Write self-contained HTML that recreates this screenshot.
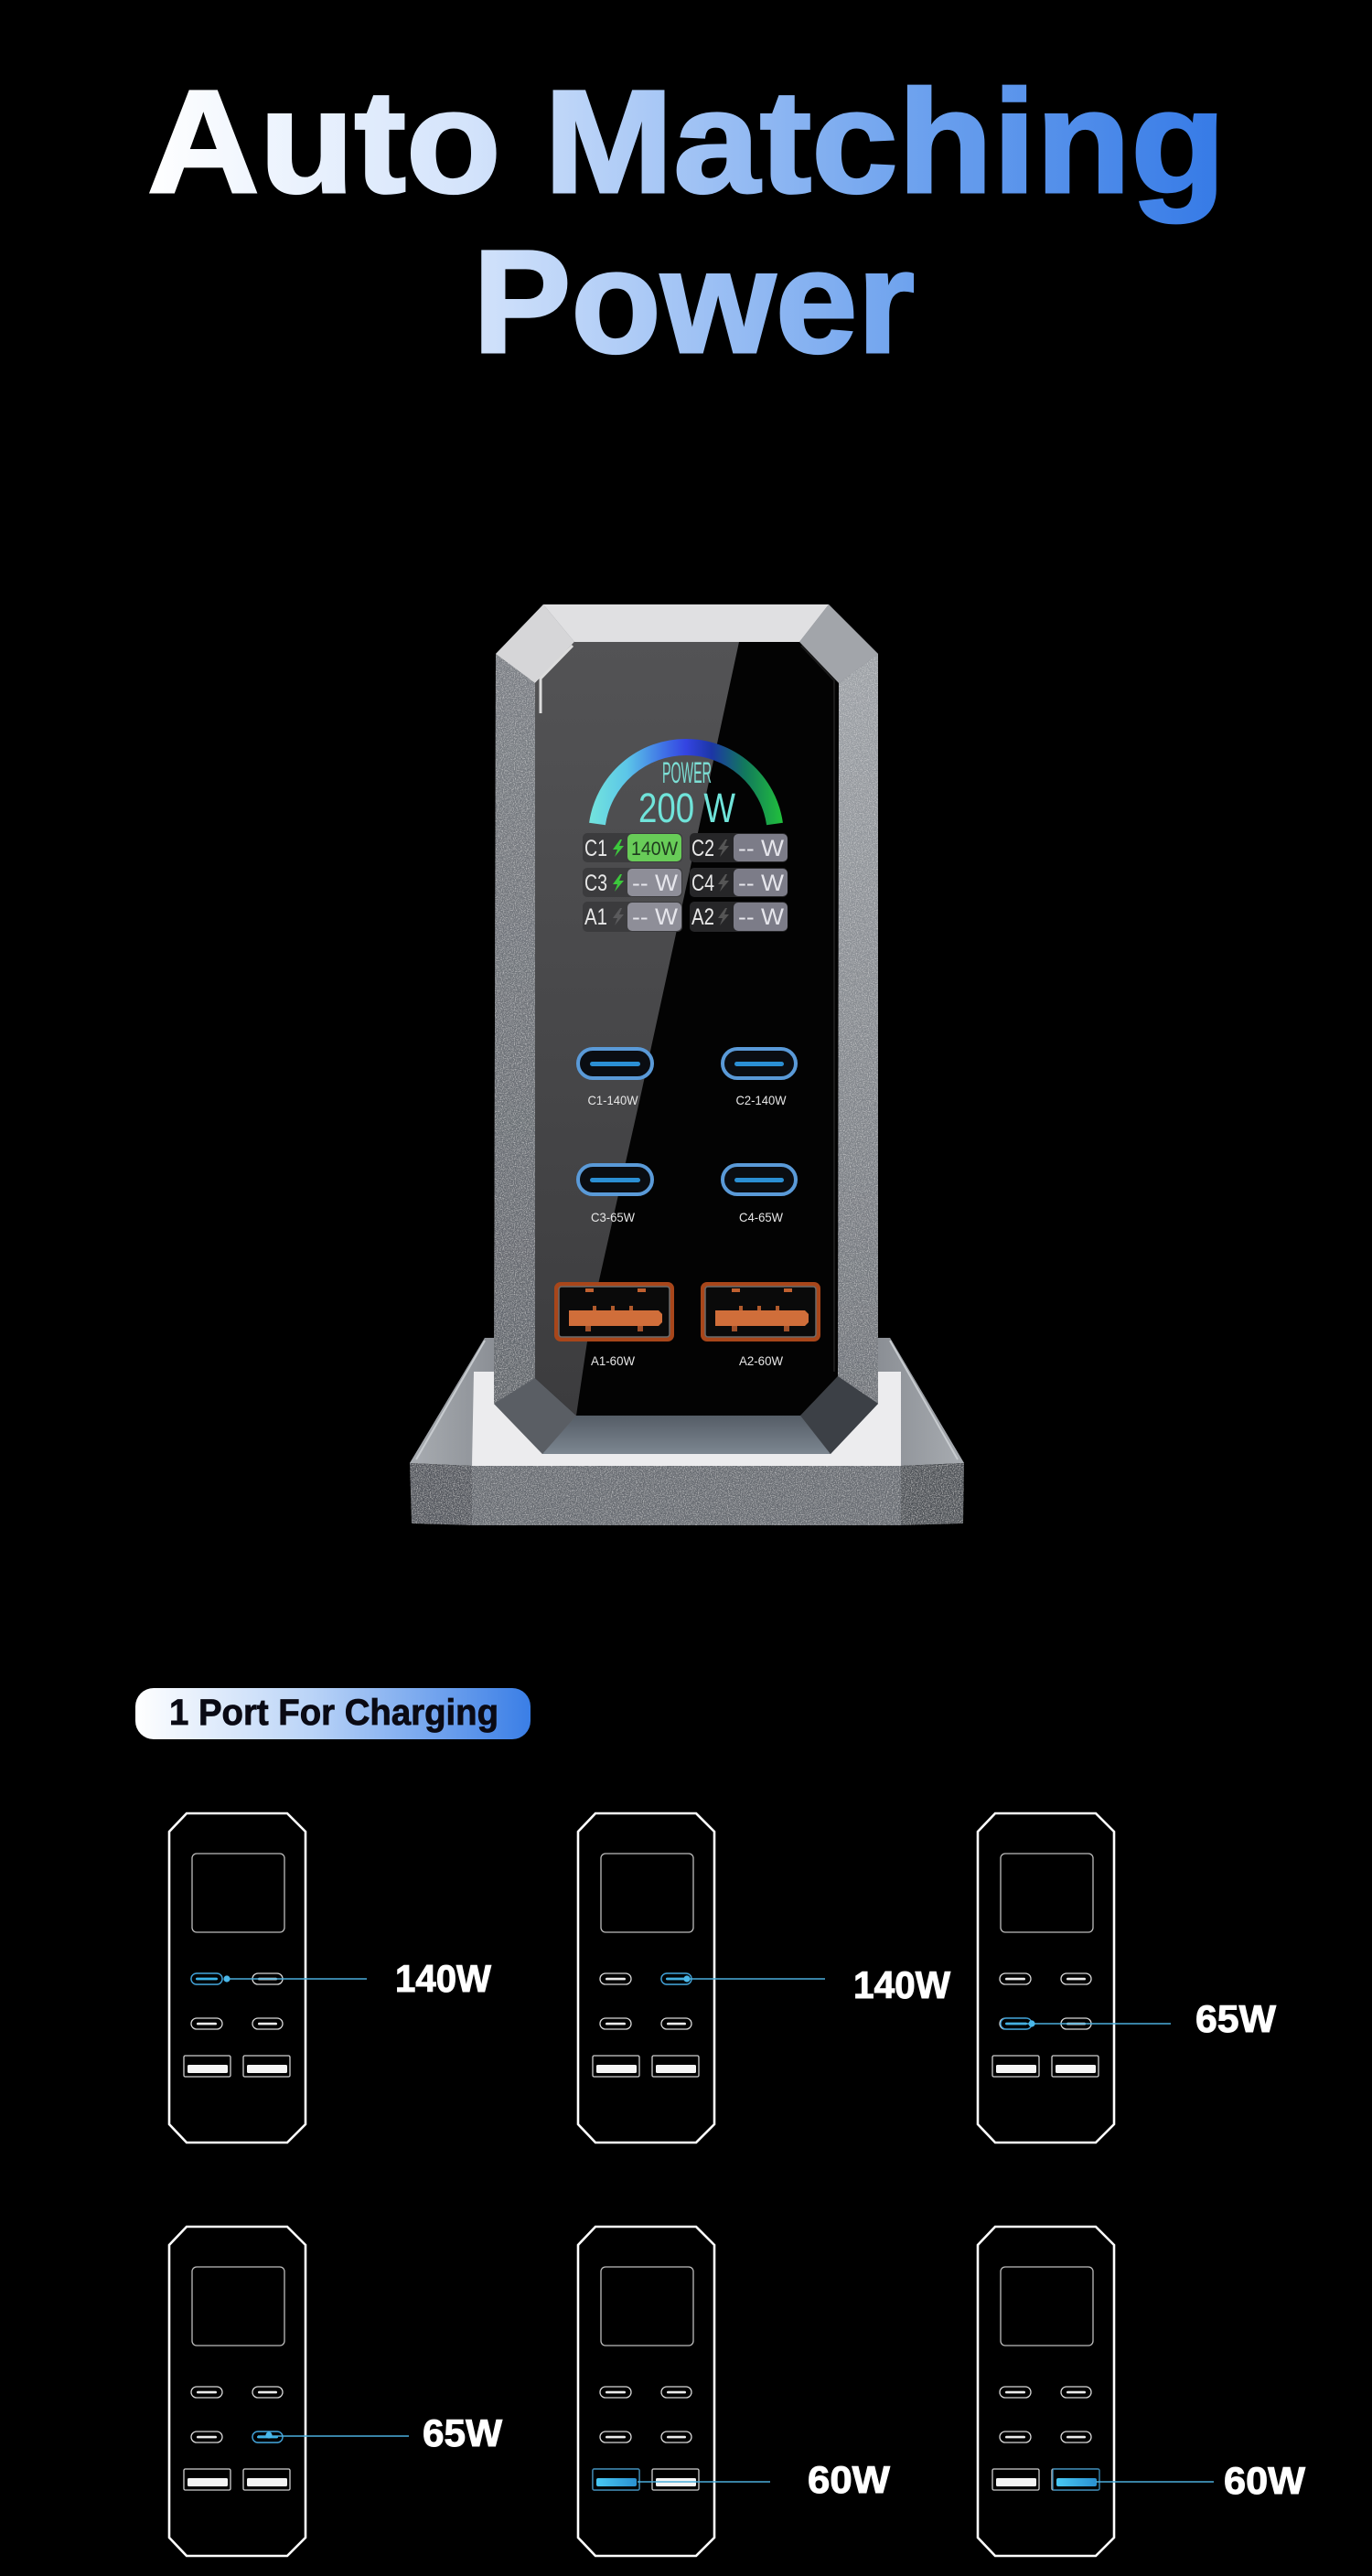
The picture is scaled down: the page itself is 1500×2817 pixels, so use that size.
<!DOCTYPE html>
<html>
<head>
<meta charset="utf-8">
<style>
html,body{margin:0;padding:0;background:#000;}
body{width:1500px;height:2817px;overflow:hidden;}
svg{display:block;}
</style>
</head>
<body>
<svg width="1500" height="2817" viewBox="0 0 1500 2817" xmlns="http://www.w3.org/2000/svg">
<defs>
  <linearGradient id="tg" gradientUnits="userSpaceOnUse" x1="160" y1="0" x2="1345" y2="0">
    <stop offset="0" stop-color="#ffffff"/>
    <stop offset="0.3" stop-color="#d3e3fb"/>
    <stop offset="0.7" stop-color="#6fa3ee"/>
    <stop offset="1" stop-color="#3479e6"/>
  </linearGradient>
  <linearGradient id="pg" gradientUnits="userSpaceOnUse" x1="148" y1="0" x2="580" y2="0">
    <stop offset="0" stop-color="#ffffff"/>
    <stop offset="0.45" stop-color="#b9d3f7"/>
    <stop offset="1" stop-color="#3a7ee6"/>
  </linearGradient>
  <linearGradient id="arcg" gradientUnits="userSpaceOnUse" x1="642" y1="0" x2="858" y2="0">
    <stop offset="0" stop-color="#74e6dc"/>
    <stop offset="0.2" stop-color="#5cc6e8"/>
    <stop offset="0.38" stop-color="#4074e6"/>
    <stop offset="0.5" stop-color="#3444e2"/>
    <stop offset="0.63" stop-color="#1c36a6"/>
    <stop offset="0.8" stop-color="#127a5c"/>
    <stop offset="1" stop-color="#22c43a"/>
  </linearGradient>
  <linearGradient id="gloss" x1="0" y1="0" x2="0" y2="1">
    <stop offset="0" stop-color="#535355"/>
    <stop offset="1" stop-color="#3c3c3e"/>
  </linearGradient>
  <linearGradient id="rside" x1="0" y1="0" x2="0" y2="1">
    <stop offset="0" stop-color="#9ea2a7"/>
    <stop offset="1" stop-color="#6e7278"/>
  </linearGradient>
  <linearGradient id="lside" x1="0" y1="0" x2="0" y2="1">
    <stop offset="0" stop-color="#7a7e84"/>
    <stop offset="1" stop-color="#62666c"/>
  </linearGradient>
  <linearGradient id="bface" x1="0" y1="0" x2="0" y2="1">
    <stop offset="0" stop-color="#555d66"/>
    <stop offset="1" stop-color="#7c8690"/>
  </linearGradient>
  <linearGradient id="wing" x1="0" y1="0" x2="1" y2="0">
    <stop offset="0" stop-color="#a8acb1"/>
    <stop offset="1" stop-color="#8a8e94"/>
  </linearGradient>
  <linearGradient id="wingr" x1="1" y1="0" x2="0" y2="0">
    <stop offset="0" stop-color="#a8acb1"/>
    <stop offset="1" stop-color="#8a8e94"/>
  </linearGradient>
  <linearGradient id="hlbar" x1="0" y1="0" x2="1" y2="0">
    <stop offset="0" stop-color="#48c8f4"/>
    <stop offset="1" stop-color="#2a90d0"/>
  </linearGradient>
  <filter id="grain" x="0" y="0" width="100%" height="100%">
    <feTurbulence type="fractalNoise" baseFrequency="0.85" numOctaves="2" seed="4" result="n"/>
    <feColorMatrix in="n" type="matrix" values="0 0 0 0 1  0 0 0 0 1  0 0 0 0 1  0 0 0 1.2 -0.55" result="w"/>
    <feComposite in="w" in2="SourceGraphic" operator="in" result="wc"/>
    <feMerge><feMergeNode in="SourceGraphic"/><feMergeNode in="wc"/></feMerge>
  </filter>

  <g id="dg">
    <polygon points="19,0 129,0 149,20 149,340 129,360 19,360 0,340 0,20" fill="none" stroke="#ffffff" stroke-width="2.6"/>
    <rect x="25" y="44" width="101" height="86" rx="5" fill="none" stroke="#bdbdbd" stroke-width="1.3"/>
    <rect x="24" y="175" width="34" height="12" rx="6" fill="none" stroke="#d8d8d8" stroke-width="1.3"/>
    <rect x="91" y="175" width="33" height="12" rx="6" fill="none" stroke="#d8d8d8" stroke-width="1.3"/>
    <rect x="24" y="224" width="34" height="12" rx="6" fill="none" stroke="#d8d8d8" stroke-width="1.3"/>
    <rect x="91" y="224" width="33" height="12" rx="6" fill="none" stroke="#d8d8d8" stroke-width="1.3"/>
    <rect x="30" y="179.8" width="22" height="2.6" rx="1.3" fill="#ececec"/>
    <rect x="97" y="179.8" width="21" height="2.6" rx="1.3" fill="#ececec"/>
    <rect x="30" y="228.8" width="22" height="2.6" rx="1.3" fill="#ececec"/>
    <rect x="97" y="228.8" width="21" height="2.6" rx="1.3" fill="#ececec"/>
    <rect x="16" y="265" width="51" height="23" rx="1.5" fill="none" stroke="#cfcfcf" stroke-width="1.3"/>
    <rect x="81" y="265" width="51" height="23" rx="1.5" fill="none" stroke="#cfcfcf" stroke-width="1.3"/>
    <rect x="20" y="275" width="44" height="9" rx="1.5" fill="#f4f4f4"/>
    <rect x="85" y="275" width="44" height="9" rx="1.5" fill="#f4f4f4"/>
  </g>
</defs>

<rect x="0" y="0" width="1500" height="2817" fill="#000"/>

<!-- Title -->
<text x="161" y="210" font-family="'Liberation Sans', Arial, sans-serif" font-weight="700" font-size="160" textLength="1179" lengthAdjust="spacingAndGlyphs" fill="url(#tg)" stroke="url(#tg)" stroke-width="3">Auto Matching</text>
<text x="517" y="385" font-family="'Liberation Sans', Arial, sans-serif" font-weight="700" font-size="160" textLength="483" lengthAdjust="spacingAndGlyphs" fill="url(#tg)" stroke="url(#tg)" stroke-width="3">Power</text>

<!-- ===== Device base ===== -->
<polygon points="530,1463 973,1463 1054,1600 448,1600" fill="#9a9ea4"/>
<polygon points="530,1463 545,1463 545,1500 518,1500 516,1603 448,1600" fill="url(#wing)"/>
<polygon points="973,1463 958,1463 958,1500 985,1500 985,1603 1054,1600" fill="url(#wingr)"/>
<polyline points="530,1466 455,1596" fill="none" stroke="#c8ccd0" stroke-width="2"/>
<polyline points="973,1466 1047,1596" fill="none" stroke="#c8ccd0" stroke-width="2"/>
<polygon points="518,1500 985,1500 985,1603 516,1603" fill="#ececee"/>
<g filter="url(#grain)">
<polygon points="448,1600 516,1603 516,1668 450,1666" fill="#55595f"/>
<polygon points="985,1603 1054,1600 1053,1666 985,1668" fill="#4f5359"/>
<rect x="516" y="1603" width="469" height="65" fill="#686c72"/>
</g>

<!-- ===== Device body ===== -->
<polygon points="594,661 906,661 960,715 960,1535 908,1590 593,1590 540,1535 542,715" fill="#6a6e74"/>
<g filter="url(#grain)">
<polygon points="542,715 585,747 585,1507 540,1535" fill="url(#lside)"/>
<polygon points="960,715 917,747 916,1505 960,1535" fill="url(#rside)"/>
</g>
<polygon points="594,661 906,661 874,702 628,702" fill="#e0e0e2"/>
<polygon points="594,661 628,702 585,747 542,715" fill="#d6d6d8"/>
<polygon points="906,661 960,715 917,747 874,702" fill="#a2a5aa"/>
<polygon points="630,1548 875,1548 908,1590 593,1590" fill="url(#bface)"/>
<polygon points="585,1507 630,1548 593,1590 540,1535" fill="#5a5e64"/>
<polygon points="916,1505 875,1548 908,1590 960,1535" fill="#3c4046"/>
<!-- screen -->
<polygon points="628,702 874,702 917,747 916,1505 875,1548 630,1548 585,1507 585,747" fill="#030303"/>
<polygon points="628,702 808,702 748,980 700,1200 646,1440 630,1548 585,1507 585,747" fill="url(#gloss)"/>
<polyline points="626,706 591,742 591,780" fill="none" stroke="#dcdcdc" stroke-width="3"/>
<polyline points="876,706 912,744 912,1500" fill="none" stroke="#1a1a1a" stroke-width="2"/>

<!-- gauge -->
<path d="M653,901 A98,98 0 0 1 847,901" fill="none" stroke="url(#arcg)" stroke-width="18"/>
<text x="724" y="856" font-family="'Liberation Sans', Arial, sans-serif" font-size="32" textLength="54" lengthAdjust="spacingAndGlyphs" fill="#7de0d6">POWER</text>
<text x="698" y="899" font-family="'Liberation Sans', Arial, sans-serif" font-size="45" textLength="106" lengthAdjust="spacingAndGlyphs" fill="#70e4da">200 W</text>

<!-- rows -->
<g font-family="'Liberation Sans', Arial, sans-serif">
  <rect x="637" y="911" width="109" height="32" rx="5" fill="#3b3b3d"/>
  <rect x="686" y="912" width="59" height="30" rx="5" fill="#68cc58"/>
  <text x="639" y="936" font-size="25" textLength="25" lengthAdjust="spacingAndGlyphs" fill="#e8e8e8">C1</text>
  <path d="M678,918 L670,929 L675,929 L672,937 L682,925 L677,925 L680,918 Z" fill="#3cc83c"/>
  <text x="690" y="935" font-size="21" textLength="51" lengthAdjust="spacingAndGlyphs" fill="#1e3a1e">140W</text>
  <rect x="754" y="911" width="107" height="32" rx="5" fill="#262628"/>
  <rect x="802" y="912" width="59" height="30" rx="5" fill="#7c7c88"/>
  <text x="756" y="936" font-size="25" textLength="25" lengthAdjust="spacingAndGlyphs" fill="#e8e8e8">C2</text>
  <path d="M793,918 L785,929 L790,929 L787,937 L797,925 L792,925 L795,918 Z" fill="#555"/>
  <text x="807" y="936" font-size="25" textLength="50" lengthAdjust="spacingAndGlyphs" fill="#e6e6ec">-- W</text>

  <rect x="637" y="949" width="109" height="32" rx="5" fill="#3b3b3d"/>
  <rect x="686" y="950" width="59" height="30" rx="5" fill="#8e8e98"/>
  <text x="639" y="974" font-size="25" textLength="25" lengthAdjust="spacingAndGlyphs" fill="#e8e8e8">C3</text>
  <path d="M678,956 L670,967 L675,967 L672,975 L682,963 L677,963 L680,956 Z" fill="#3cc83c"/>
  <text x="691" y="974" font-size="25" textLength="50" lengthAdjust="spacingAndGlyphs" fill="#e6e6ec">-- W</text>
  <rect x="754" y="949" width="107" height="32" rx="5" fill="#262628"/>
  <rect x="802" y="950" width="59" height="30" rx="5" fill="#7c7c88"/>
  <text x="756" y="974" font-size="25" textLength="25" lengthAdjust="spacingAndGlyphs" fill="#e8e8e8">C4</text>
  <path d="M793,956 L785,967 L790,967 L787,975 L797,963 L792,963 L795,956 Z" fill="#555"/>
  <text x="807" y="974" font-size="25" textLength="50" lengthAdjust="spacingAndGlyphs" fill="#e6e6ec">-- W</text>

  <rect x="637" y="986" width="109" height="33" rx="5" fill="#3b3b3d"/>
  <rect x="686" y="987" width="59" height="31" rx="5" fill="#8e8e98"/>
  <text x="639" y="1011" font-size="25" textLength="25" lengthAdjust="spacingAndGlyphs" fill="#e8e8e8">A1</text>
  <path d="M678,993 L670,1004 L675,1004 L672,1012 L682,1000 L677,1000 L680,993 Z" fill="#5a5a5c"/>
  <text x="691" y="1011" font-size="25" textLength="50" lengthAdjust="spacingAndGlyphs" fill="#e6e6ec">-- W</text>
  <rect x="754" y="986" width="107" height="33" rx="5" fill="#262628"/>
  <rect x="802" y="987" width="59" height="31" rx="5" fill="#7c7c88"/>
  <text x="756" y="1011" font-size="25" textLength="25" lengthAdjust="spacingAndGlyphs" fill="#e8e8e8">A2</text>
  <path d="M793,993 L785,1004 L790,1004 L787,1012 L797,1000 L792,1000 L795,993 Z" fill="#555"/>
  <text x="807" y="1011" font-size="25" textLength="50" lengthAdjust="spacingAndGlyphs" fill="#e6e6ec">-- W</text>
</g>

<!-- USB-C ports -->
<g>
  <rect x="632" y="1147" width="81" height="32" rx="16" fill="#0a0d12" stroke="#5a9ad8" stroke-width="4"/>
  <rect x="645" y="1161" width="55" height="5" rx="2.5" fill="#2b8fd4"/>
  <rect x="790" y="1147" width="80" height="32" rx="16" fill="#0a0d12" stroke="#5a9ad8" stroke-width="4"/>
  <rect x="803" y="1161" width="54" height="5" rx="2.5" fill="#2b8fd4"/>
  <rect x="632" y="1274" width="81" height="32" rx="16" fill="#0a0d12" stroke="#5a9ad8" stroke-width="4"/>
  <rect x="645" y="1288" width="55" height="5" rx="2.5" fill="#2b8fd4"/>
  <rect x="790" y="1274" width="80" height="32" rx="16" fill="#0a0d12" stroke="#5a9ad8" stroke-width="4"/>
  <rect x="803" y="1288" width="54" height="5" rx="2.5" fill="#2b8fd4"/>
</g>
<g font-family="'Liberation Sans', Arial, sans-serif" font-size="14" fill="#e6e6e6" text-anchor="middle">
  <text x="670" y="1208" textLength="55" lengthAdjust="spacingAndGlyphs">C1-140W</text>
  <text x="832" y="1208" textLength="55" lengthAdjust="spacingAndGlyphs">C2-140W</text>
  <text x="670" y="1336" textLength="48" lengthAdjust="spacingAndGlyphs">C3-65W</text>
  <text x="832" y="1336" textLength="48" lengthAdjust="spacingAndGlyphs">C4-65W</text>
  <text x="670" y="1493" textLength="48" lengthAdjust="spacingAndGlyphs">A1-60W</text>
  <text x="832" y="1493" textLength="48" lengthAdjust="spacingAndGlyphs">A2-60W</text>
</g>

<!-- USB-A ports -->
<g>
  <rect x="606" y="1402" width="131" height="65" rx="7" fill="#a8461a"/>
  <rect x="611" y="1407" width="121" height="55" rx="3" fill="#0a0a0a" stroke="#6a6a6a" stroke-width="1.5"/>
  <rect x="640" y="1409" width="9" height="4" fill="#c06030"/>
  <rect x="697" y="1409" width="9" height="4" fill="#c06030"/>
  <rect x="648" y="1428" width="4" height="5" fill="#b05a2c"/>
  <rect x="668" y="1428" width="4" height="5" fill="#b05a2c"/>
  <rect x="688" y="1428" width="4" height="5" fill="#b05a2c"/>
  <polygon points="622,1433 720,1433 724,1437 724,1446 720,1450 622,1450" fill="#d06e3a"/>
  <rect x="640" y="1450" width="6" height="6" fill="#a0502a"/>
  <rect x="697" y="1450" width="6" height="6" fill="#a0502a"/>

  <rect x="766" y="1402" width="131" height="65" rx="7" fill="#a8461a"/>
  <rect x="771" y="1407" width="121" height="55" rx="3" fill="#0a0a0a" stroke="#6a6a6a" stroke-width="1.5"/>
  <rect x="800" y="1409" width="9" height="4" fill="#c06030"/>
  <rect x="857" y="1409" width="9" height="4" fill="#c06030"/>
  <rect x="808" y="1428" width="4" height="5" fill="#b05a2c"/>
  <rect x="828" y="1428" width="4" height="5" fill="#b05a2c"/>
  <rect x="848" y="1428" width="4" height="5" fill="#b05a2c"/>
  <polygon points="782,1433 880,1433 884,1437 884,1446 880,1450 782,1450" fill="#d06e3a"/>
  <rect x="800" y="1450" width="6" height="6" fill="#a0502a"/>
  <rect x="857" y="1450" width="6" height="6" fill="#a0502a"/>
</g>

<!-- ===== Section 2 ===== -->
<rect x="148" y="1846" width="432" height="56" rx="20" fill="url(#pg)"/>
<text x="185" y="1886" font-family="'Liberation Sans', Arial, sans-serif" font-weight="700" font-size="40" textLength="360" lengthAdjust="spacingAndGlyphs" fill="#0a0a14" stroke="#0a0a14" stroke-width="0.8">1 Port For Charging</text>

<use href="#dg" x="185" y="1983"/>
<use href="#dg" x="632" y="1983"/>
<use href="#dg" x="1069" y="1983"/>
<use href="#dg" x="185" y="2435"/>
<use href="#dg" x="632" y="2435"/>
<use href="#dg" x="1069" y="2435"/>

<!-- D1 highlight -->
<rect x="209" y="2158" width="34" height="12" rx="6" fill="#000" stroke="#3c9fd6" stroke-width="1.4"/>
<rect x="214" y="2162.6" width="24" height="2.8" rx="1.4" fill="#3ab4ea"/>
<line x1="248" y1="2164" x2="401" y2="2164" stroke="#4aaedc" stroke-width="1.6"/>
<circle cx="248" cy="2164" r="3.6" fill="#4ab8ea"/>

<!-- D2 highlight -->
<rect x="723" y="2158" width="33" height="12" rx="6" fill="#000" stroke="#3c9fd6" stroke-width="1.4"/>
<rect x="728" y="2162.6" width="23" height="2.8" rx="1.4" fill="#3ab4ea"/>
<line x1="729" y1="2164" x2="902" y2="2164" stroke="#4aaedc" stroke-width="1.6"/>
<circle cx="751" cy="2164" r="3.6" fill="#4ab8ea"/>

<!-- D3 highlight -->
<rect x="1094" y="2207" width="34" height="12" rx="6" fill="#000" stroke="#3c9fd6" stroke-width="1.4"/>
<rect x="1099" y="2211.6" width="24" height="2.8" rx="1.4" fill="#3ab4ea"/>
<line x1="1100" y1="2213" x2="1280" y2="2213" stroke="#4aaedc" stroke-width="1.6"/>
<circle cx="1128" cy="2213" r="3.6" fill="#4ab8ea"/>

<!-- D4 highlight -->
<rect x="276" y="2659" width="33" height="12" rx="6" fill="#000" stroke="#3c9fd6" stroke-width="1.4"/>
<rect x="281" y="2663.6" width="23" height="2.8" rx="1.4" fill="#3ab4ea"/>
<line x1="282" y1="2664" x2="447" y2="2664" stroke="#4aaedc" stroke-width="1.6"/>
<circle cx="294" cy="2663" r="3.6" fill="#4ab8ea"/>

<!-- D5 highlight -->
<rect x="648" y="2700" width="51" height="23" rx="1.5" fill="#000" stroke="#3a88b4" stroke-width="1.4"/>
<rect x="652" y="2710" width="44" height="9" rx="2" fill="url(#hlbar)"/>
<line x1="697" y1="2714" x2="842" y2="2714" stroke="#4aaedc" stroke-width="1.6"/>

<!-- D6 highlight -->
<rect x="1151" y="2700" width="51" height="23" rx="1.5" fill="#000" stroke="#3a88b4" stroke-width="1.4"/>
<rect x="1155" y="2710" width="44" height="9" rx="2" fill="url(#hlbar)"/>
<line x1="1198" y1="2714" x2="1327" y2="2714" stroke="#4aaedc" stroke-width="1.6"/>

<!-- wattage labels -->
<g font-family="'Liberation Sans', Arial, sans-serif" font-weight="700" font-size="42" fill="#ffffff" stroke="#ffffff" stroke-width="1">
  <text x="432" y="2178" textLength="105" lengthAdjust="spacingAndGlyphs">140W</text>
  <text x="933" y="2185" textLength="106" lengthAdjust="spacingAndGlyphs">140W</text>
  <text x="1307" y="2222" textLength="88" lengthAdjust="spacingAndGlyphs">65W</text>
  <text x="462" y="2675" textLength="87" lengthAdjust="spacingAndGlyphs">65W</text>
  <text x="883" y="2726" textLength="90" lengthAdjust="spacingAndGlyphs">60W</text>
  <text x="1338" y="2727" textLength="89" lengthAdjust="spacingAndGlyphs">60W</text>
</g>
</svg>
</body>
</html>
